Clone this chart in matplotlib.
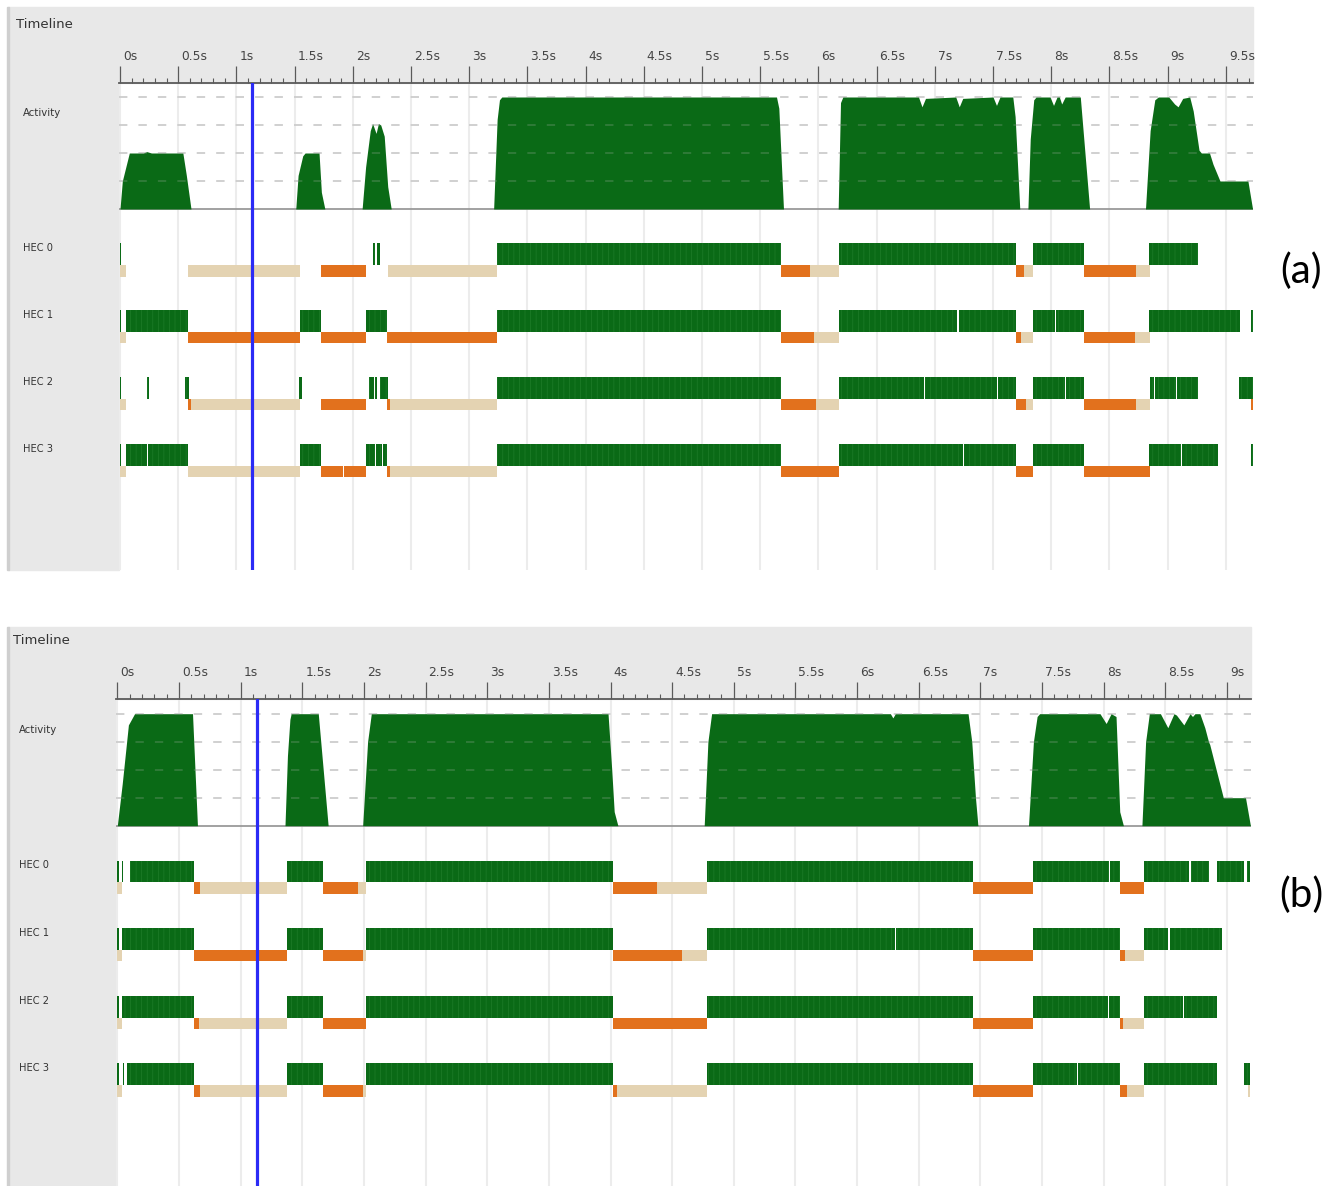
import matplotlib
matplotlib.use("Agg")
import matplotlib.pyplot as plt
from matplotlib.patches import Rectangle
from matplotlib import transforms

plt.rcParams['font.family'] = ['DejaVu Sans']
plt.rcParams['lines.scale_dashes'] = False
plt.rcParams['hatch.linewidth'] = 0.5

W, H = 1341, 1186

# ---- data (seconds / cores) ----
tick_labels_a = ['0s', '0.5s', '1s', '1.5s', '2s', '2.5s', '3s', '3.5s', '4s', '4.5s',
                 '5s', '5.5s', '6s', '6.5s', '7s', '7.5s', '8s', '8.5s', '9s', '9.5s']
tick_labels_b = ['0s', '0.5s', '1s', '1.5s', '2s', '2.5s', '3s', '3.5s', '4s', '4.5s',
                 '5s', '5.5s', '6s', '6.5s', '7s', '7.5s', '8s', '8.5s', '9s']
hec_names = ['HEC 0', 'HEC 1', 'HEC 2', 'HEC 3']

act_a_t = [0.0, 0.02, 0.08, 0.2, 0.23, 0.27, 0.54, 0.57, 0.61,
           1.51, 1.53, 1.57, 1.59, 1.71, 1.73, 1.76,
           2.08, 2.11, 2.15, 2.17, 2.20, 2.22, 2.24, 2.27, 2.30, 2.33,
           3.21, 3.24, 3.26, 3.28, 5.64, 5.66, 5.70,
           6.17, 6.19, 6.21, 6.86, 6.89, 6.92, 7.18, 7.21, 7.24, 7.50, 7.53, 7.56, 7.67, 7.69, 7.73,
           7.80, 7.82, 7.85, 7.87, 7.99, 8.02, 8.05, 8.07, 8.09, 8.12, 8.25, 8.29, 8.33,
           8.81, 8.85, 8.89, 8.92, 9.01, 9.06, 9.09, 9.13, 9.19, 9.22, 9.27, 9.29, 9.36, 9.39, 9.45,
           9.69, 9.73]
act_a_c = [0, 1.0, 2.0, 2.0, 2.05, 2.0, 2.0, 1.2, 0,
           0, 1.2, 1.9, 2.0, 2.0, 0.6, 0,
           0, 1.5, 2.8, 3.05, 2.7, 3.05, 3.0, 2.6, 0.8, 0,
           0, 3.2, 3.9, 4.0, 4.0, 3.6, 0,
           0, 3.8, 4.0, 4.0, 3.65, 3.95, 4.0, 3.65, 3.95, 4.0, 3.7, 4.0, 4.0, 3.3, 0,
           0, 2.5, 3.9, 4.0, 4.0, 3.7, 4.0, 4.0, 3.75, 4.0, 4.0, 2.0, 0,
           0, 2.8, 3.9, 4.0, 4.0, 3.75, 3.65, 3.95, 4.0, 3.5, 2.1, 2.0, 2.0, 1.6, 1.0,
           1.0, 0]

act_b_t = [0.0, 0.04, 0.09, 0.14, 0.61, 0.63, 0.65,
           1.36, 1.38, 1.40, 1.41, 1.63, 1.67, 1.71,
           1.99, 2.03, 2.06, 3.98, 4.01, 4.03, 4.06,
           4.76, 4.79, 4.82, 6.27, 6.29, 6.31, 6.90, 6.93, 6.96, 6.98,
           7.39, 7.43, 7.46, 7.48, 7.97, 8.02, 8.06, 8.10, 8.13, 8.16,
           8.31, 8.34, 8.37, 8.46, 8.52, 8.57, 8.59, 8.65, 8.70, 8.72, 8.74, 8.78, 8.82, 8.85,
           8.86, 8.97, 9.15, 9.19]
act_b_c = [0, 1.5, 3.6, 4.0, 4.0, 2.0, 0,
           0, 2.5, 3.8, 4.0, 4.0, 2.0, 0,
           0, 3.0, 4.0, 4.0, 2.0, 0.5, 0,
           0, 3.0, 4.0, 4.0, 3.85, 4.0, 4.0, 3.0, 1.0, 0,
           0, 3.0, 3.9, 4.0, 4.0, 3.65, 4.0, 3.9, 0.5, 0,
           0, 3.0, 4.0, 4.0, 3.5, 4.0, 3.95, 3.6, 4.0, 3.9, 4.0, 4.0, 3.5, 3.0,
           2.9, 1.0, 1.0, 0]

# per HEC: running (green), GC (orange), idle (tan) intervals
run_a = [
    [(0.0, 0.006), (2.17, 2.195), (2.205, 2.23), (3.24, 5.68), (6.18, 7.70), (7.84, 8.28), (8.84, 9.26)],
    [(0.0, 0.006), (0.05, 0.58), (1.55, 1.73), (2.11, 2.29), (3.24, 5.68), (6.18, 7.195), (7.205, 7.70),
     (7.84, 8.035), (8.045, 8.28), (8.84, 9.62), (9.72, 9.74)],
    [(0.0, 0.006), (0.23, 0.25), (0.56, 0.59), (1.54, 1.56), (2.14, 2.18), (2.19, 2.21), (2.23, 2.30),
     (3.24, 5.68), (6.18, 6.905), (6.915, 7.535), (7.545, 7.70), (7.84, 8.115), (8.125, 8.28),
     (8.85, 8.885), (8.895, 9.075), (9.085, 9.26), (9.61, 9.74)],
    [(0.0, 0.006), (0.05, 0.23), (0.24, 0.58), (1.55, 1.73), (2.11, 2.19), (2.20, 2.255), (2.262, 2.29),
     (3.24, 5.68), (6.18, 7.245), (7.255, 7.70), (7.84, 8.28), (8.84, 9.115), (9.125, 9.43), (9.72, 9.74)],
]
gc_a = [
    [(1.73, 2.11), (5.68, 5.93), (7.70, 7.77), (8.28, 8.73)],
    [(0.58, 1.55), (1.73, 2.11), (2.29, 3.24), (5.68, 5.96), (7.70, 7.74), (8.28, 8.72)],
    [(0.58, 0.61), (1.73, 2.11), (2.29, 2.32), (5.68, 5.98), (7.70, 7.78), (8.28, 8.73), (9.72, 9.74)],
    [(1.73, 1.915), (1.925, 2.11), (2.29, 2.32), (5.68, 6.18), (7.70, 7.84), (8.28, 8.85)],
]
idle_a = [
    [(0.0, 0.05), (0.58, 1.55), (2.30, 3.24), (5.93, 6.18), (7.77, 7.84), (8.73, 8.85)],
    [(0.0, 0.05), (5.96, 6.18), (7.74, 7.84), (8.72, 8.85)],
    [(0.0, 0.05), (0.61, 1.55), (2.32, 3.24), (5.98, 6.18), (7.78, 7.84), (8.73, 8.85)],
    [(0.0, 0.05), (0.58, 1.55), (2.32, 3.24)],
]

run_b = [
    [(0.0, 0.013), (0.04, 0.05), (0.10, 0.62), (1.38, 1.67), (2.02, 4.02), (4.78, 6.94), (7.43, 8.045),
     (8.055, 8.13), (8.33, 8.695), (8.705, 8.85), (8.92, 9.14), (9.16, 9.19)],
    [(0.0, 0.01), (0.04, 0.62), (1.38, 1.67), (2.02, 4.02), (4.78, 6.305), (6.315, 6.94), (7.43, 8.13),
     (8.33, 8.525), (8.535, 8.96)],
    [(0.0, 0.01), (0.04, 0.62), (1.38, 1.67), (2.02, 4.02), (4.78, 6.94), (7.43, 8.035), (8.045, 8.13),
     (8.33, 8.645), (8.655, 8.92)],
    [(0.0, 0.01), (0.045, 0.055), (0.08, 0.62), (1.38, 1.67), (2.02, 4.02), (4.78, 6.94), (7.43, 7.785),
     (7.795, 8.13), (8.33, 8.92), (9.14, 9.19)],
]
gc_b = [
    [(0.62, 0.67), (1.67, 1.95), (4.02, 4.38), (6.94, 7.43), (8.13, 8.33)],
    [(0.62, 1.38), (1.67, 1.99), (4.02, 4.58), (6.94, 7.43), (8.13, 8.17)],
    [(0.62, 0.66), (1.67, 2.02), (4.02, 4.78), (6.94, 7.43), (8.13, 8.16)],
    [(0.62, 0.67), (1.67, 1.99), (4.02, 4.05), (6.94, 7.43), (8.13, 8.19)],
]
idle_b = [
    [(0.0, 0.04), (0.67, 1.38), (1.95, 2.02), (4.38, 4.78)],
    [(0.0, 0.04), (1.99, 2.02), (4.58, 4.78), (8.17, 8.33)],
    [(0.0, 0.04), (0.66, 1.38), (8.16, 8.33)],
    [(0.0, 0.04), (0.67, 1.38), (1.99, 2.02), (4.05, 4.78), (8.19, 8.33), (9.17, 9.19)],
]

cursor_a = 1.135
cursor_b = 1.13

GREEN = '#0a6a16'
STRIPE = '#1f7d2a'
ORANGE = '#e2711d'
TAN = '#e4d3b2'
PANEL = '#e8e8e8'
BLUE = '#2b2bf6'

fig = plt.figure(figsize=(W / 100, H / 100), dpi=100)


def frac(x0, y0, x1, y1):
    return [x0 / W, 1 - y1 / H, (x1 - x0) / W, (y1 - y0) / H]


def spans(iv):
    return [(a, b - a) for a, b in iv]


def draw_panel(g, ticks, act_t, act_c, runs, gcs, idles, cursor, tag):
    pps = g['pps']
    xlim = ((g['left'] - g['x0']) / pps, (g['right'] - g['x0']) / pps)

    # backgrounds
    header = Rectangle((8 / W, 1 - g['ruler'] / H), (g['right'] - 8) / W, (g['ruler'] - g['top']) / H,
                       transform=fig.transFigure, color=PANEL, zorder=-2)
    fig.patches.append(header)
    fig.patches.append(Rectangle((8 / W, 1 - g['bottom'] / H), (g['left'] - 8) / W,
                                 (g['bottom'] - g['ruler']) / H, transform=fig.transFigure,
                                 color=PANEL, zorder=-2))
    fig.patches.append(Rectangle((7 / W, 1 - g['bottom'] / H), 1.5 / W, (g['bottom'] - g['top']) / H,
                                 transform=fig.transFigure, color='#cfcfcf', zorder=-1))
    fig.text(g['tx'] / W, 1 - g['ty'] / H, 'Timeline', fontsize=9.5, color='#333333', va='center')

    tick_pos = [float(s[:-1]) for s in ticks]

    # activity graph
    ax = fig.add_axes(frac(g['left'], g['ruler'], g['right'], g['act_bot']))
    ax.set_facecolor('none')
    for s in ['left', 'right', 'bottom']:
        ax.spines[s].set_visible(False)
    ax.spines['top'].set_color('#5a5a5a')
    ax.spines['top'].set_linewidth(1.3)
    ax.set_yticks([])
    ax.xaxis.tick_top()
    ax.set_xticks(tick_pos)
    ax.set_xticks([p + k * 0.1 for p in tick_pos for k in range(1, 5)], minor=True)
    ax.set_xlim(*xlim)
    ax.set_ylim(-(g['act_bot'] - g['base']) / 28, (g['base'] - g['ruler']) / 28)
    ax.tick_params(axis='x', which='major', direction='out', length=12.5, width=0.9,
                   color='#5a5a5a', labeltop=False)
    ax.tick_params(axis='x', which='minor', direction='out', length=3.8, width=0.8, color='#5a5a5a')
    ax.grid(axis='x', which='major', color='#ececec', lw=1.5, zorder=0)
    ax.set_axisbelow(True)
    lab_tr = transforms.offset_copy(ax.get_xaxis_transform(), fig=fig, x=3, y=26.5, units='dots')
    for p, s in zip(tick_pos, ticks):
        t = ax.text(p, 1, s, transform=lab_tr, fontsize=8.8, color='#444444', ha='left', va='center',
                    clip_on=False)
        t.set_clip_path(header)
    for lvl in [1, 2, 3, 4]:
        ax.axhline(lvl, color='#d2d2d2', ls=(0, (6, 8)), lw=1.3, zorder=1)
        ax.axhline(lvl, color=(0.75, 0.75, 0.75, 0.22), ls=(0, (6, 8)), lw=1.3, zorder=3)
    ax.axhline(0, color='#9a9a9a', lw=1.3, zorder=1.5)
    ax.fill_between(act_t, 0, act_c, color=GREEN, lw=0, zorder=2)
    ax.axvline(cursor, color=BLUE, lw=2.3, zorder=5)
    fig.text(g['lx'] / W, 1 - g['act_ly'] / H, 'Activity', fontsize=7.3, color='#333333', va='center')

    # HEC rows
    hx = fig.add_axes(frac(g['left'], g['act_bot'], g['right'], g['bottom']))
    hx.set_facecolor('none')
    for s in hx.spines.values():
        s.set_visible(False)
    hx.set_yticks([])
    hx.set_xticks(tick_pos)
    hx.set_xlim(*xlim)
    pitch = g['pitch']
    hx.set_ylim((g['bottom'] - g['hec0']) / pitch, (g['act_bot'] - g['hec0']) / pitch)
    hx.tick_params(length=0, labelbottom=False)
    hx.grid(axis='x', color='#ececec', lw=1.5, zorder=0)
    hx.set_axisbelow(True)
    gh = 21.7 / pitch
    oh = 11.5 / pitch
    lab_tr2 = transforms.blended_transform_factory(fig.transFigure, hx.transData)
    for i, name in enumerate(hec_names):
        hx.broken_barh(spans(runs[i]), (i - gh, gh), facecolor=GREEN, edgecolor=STRIPE,
                       lw=0, hatch='|||', zorder=2)
        hx.broken_barh(spans(gcs[i]), (i, oh), facecolor=ORANGE, lw=0, zorder=2)
        hx.broken_barh(spans(idles[i]), (i, oh), facecolor=TAN, lw=0, zorder=2)
        hx.text(g['lx'] / W, i - 0.25, name, transform=lab_tr2, fontsize=7.1, color='#333333',
                va='center')
    hx.axvline(cursor, color=BLUE, lw=2.3, zorder=5)

    fig.text(1301 / W, 1 - g['tag_y'] / H, tag, fontsize=29, ha='center', va='center',
             family=['Lato', 'DejaVu Sans'], color='black')


geo_a = dict(top=7, left=119, right=1253, ruler=82.7, base=209, act_bot=226, hec0=265,
             pitch=66.9, bottom=570, x0=120, pps=116.4, tx=16, ty=24, lx=22.7, act_ly=113,
             tag_y=271)
geo_b = dict(top=627, left=116, right=1251, ruler=699, base=825.7, act_bot=842, hec0=882.3,
             pitch=67.6, bottom=1186, x0=117.3, pps=123.3, tx=13, ty=640, lx=19.3, act_ly=730,
             tag_y=895)

draw_panel(geo_a, tick_labels_a, act_a_t, act_a_c, run_a, gc_a, idle_a, cursor_a, '(a)')
draw_panel(geo_b, tick_labels_b, act_b_t, act_b_c, run_b, gc_b, idle_b, cursor_b, '(b)')

fig.savefig('out.png', dpi=100)
